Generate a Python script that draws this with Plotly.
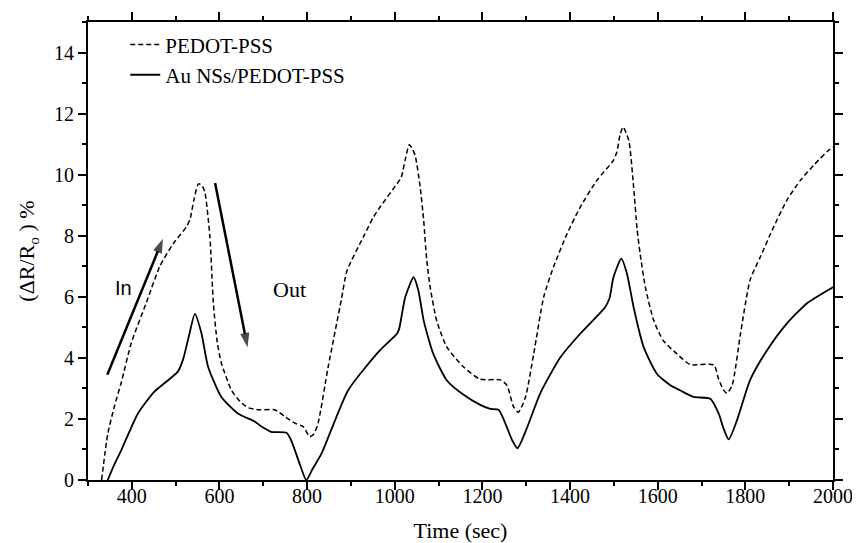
import plotly.graph_objects as go

# PEDOT-PSS (dashed)
t_pedot = [331, 345, 360, 376, 399, 433, 464, 495, 525, 533, 542, 552, 560, 567, 578, 586,
           595, 604, 627, 645, 665, 690, 726, 749, 772, 791, 806, 815, 825, 848, 878, 891,
           929, 951, 967, 1005, 1012, 1016, 1024, 1033, 1040, 1047, 1058, 1066, 1073, 1081,
           1096, 1119, 1157, 1195, 1241, 1256, 1271, 1282, 1298, 1317, 1340, 1362, 1393,
           1423, 1461, 1499, 1507, 1514, 1521, 1534, 1545, 1553, 1560, 1572, 1591, 1613,
           1644, 1674, 1728, 1739, 1750, 1758, 1770, 1789, 1811, 1834, 1865, 1895, 1926,
           1956, 1990, 2000]
r_pedot = [0.0, 1.5, 2.4, 3.2, 4.5, 5.8, 7.0, 7.75, 8.3, 8.55, 9.2, 9.7, 9.65, 9.4, 8.0, 5.8,
           4.5, 3.85, 2.95, 2.6, 2.37, 2.3, 2.3, 2.08, 1.86, 1.75, 1.42, 1.5, 1.86, 3.7, 5.9, 6.85,
           7.98, 8.6, 8.95, 9.7, 9.84, 9.97, 10.5, 10.98, 10.85, 10.6, 9.6, 8.5, 7.2, 6.3,
           5.2, 4.35, 3.7, 3.3, 3.28, 3.1, 2.4, 2.22, 2.7, 4.13, 6.0, 6.97, 8.06,
           8.93, 9.81, 10.47, 10.75, 11.3, 11.56, 11.12, 9.6, 8.2, 7.4, 6.3, 5.22, 4.56,
           4.13, 3.78, 3.77, 3.3, 2.95, 2.84, 3.11, 4.8, 6.56, 7.3, 8.3, 9.17, 9.82,
           10.31, 10.8, 10.9]

# Au NSs/PEDOT-PSS (solid)
t_au = [345, 360, 376, 414, 452, 505, 517, 530, 544, 559, 574, 604, 642, 681, 696, 718, 753,
        762, 772, 785, 798, 812, 833, 894, 967, 1005, 1010, 1024, 1043, 1054, 1066, 1088,
        1119, 1157, 1195, 1218, 1237, 1256, 1268, 1280, 1302, 1332, 1378, 1423, 1480, 1490,
        1499, 1517, 1530, 1545, 1568, 1598, 1629, 1652, 1682, 1720, 1739, 1750, 1762,
        1781, 1811, 1850, 1895, 1941, 1998, 2000]
r_au = [0.0, 0.5, 0.98, 2.18, 2.9, 3.55, 3.95, 4.7, 5.44, 4.8, 3.71, 2.73, 2.18, 1.91, 1.75,
        1.58, 1.55, 1.35, 0.98, 0.45, 0.0, 0.35, 0.87, 2.95, 4.26, 4.79, 4.95, 5.99, 6.64,
        6.2, 5.22, 4.13, 3.26, 2.79, 2.46, 2.33, 2.3, 1.72, 1.3, 1.04, 1.72, 2.84, 4.02,
        4.79, 5.66, 5.95, 6.64, 7.25, 6.75, 5.66, 4.35, 3.48, 3.1, 2.93, 2.72, 2.66, 2.18,
        1.7, 1.33, 1.96, 3.28, 4.26, 5.13, 5.79, 6.3, 6.32]

# Arrows (tail -> head) and their labels
arrow_in_t = [344, 471]
arrow_in_r = [3.45, 7.9]
arrow_out_t = [590, 664]
arrow_out_r = [9.73, 4.35]
label_in = ["In", 381, 6.3]
label_out = ["Out", 759, 6.25]

x_ticks = [400, 600, 800, 1000, 1200, 1400, 1600, 1800, 2000]
y_ticks = [0, 2, 4, 6, 8, 10, 12, 14]

serif = "Liberation Serif, Times New Roman, serif"

fig = go.Figure()
fig.add_trace(go.Scatter(x=t_pedot, y=r_pedot, mode="lines", name="PEDOT-PSS",
                         line=dict(color="black", width=1.5, dash="5px,3px",
                                   shape="spline", smoothing=0.6)))
fig.add_trace(go.Scatter(x=t_au, y=r_au, mode="lines", name="Au NSs/PEDOT-PSS",
                         line=dict(color="black", width=1.8, shape="spline", smoothing=0.6)))

for nm, tt, rr in (("In arrow", arrow_in_t, arrow_in_r), ("Out arrow", arrow_out_t, arrow_out_r)):
    fig.add_trace(go.Scatter(x=tt, y=rr, mode="lines+markers", showlegend=False, name=nm,
                             hoverinfo="skip",
                             line=dict(color="black", width=2.5),
                             marker=dict(symbol="arrow", angleref="previous",
                                         size=[0, 15], color="black",
                                         line=dict(width=0))))

fig.add_annotation(x=label_in[1], y=label_in[2], text=label_in[0], showarrow=False,
                   font=dict(family="Liberation Sans, Arial, sans-serif", size=20, color="black"))
fig.add_annotation(x=label_out[1], y=label_out[2], text=label_out[0], showarrow=False,
                   font=dict(family=serif, size=22, color="black"))

axis_common = dict(showline=True, linecolor="black", linewidth=2, mirror="allticks",
                   ticks="outside", ticklen=8, tickwidth=1.5, tickcolor="black",
                   showgrid=False, zeroline=False, automargin=False,
                   tickfont=dict(family=serif, size=20, color="black"))

fig.update_xaxes(range=[300, 2000], tickvals=x_ticks, ticklabelstandoff=-11,
                 minor=dict(ticks="outside", ticklen=4, tickwidth=1.5, tickcolor="black", dtick=100, tick0=0),
                 title=dict(text="Time (sec)", font=dict(family=serif, size=22, color="black"), standoff=20),
                 **axis_common)
fig.update_yaxes(range=[0, 15], tickvals=y_ticks, ticklabelstandoff=0,
                 minor=dict(ticks="outside", ticklen=4, tickwidth=1.5, tickcolor="black", dtick=1, tick0=0),
                 title=dict(text="(ΔR/R<sub>o</sub> ) %", font=dict(family=serif, size=22, color="black"), standoff=13),
                 **axis_common)

# the page body adds an 8px offset, so the figure is 852x535 with margins set accordingly
fig.update_layout(width=852, height=535, margin=dict(l=80, r=27, t=14, b=63),
                  paper_bgcolor="white", plot_bgcolor="white",
                  showlegend=True,
                  legend=dict(x=0.05, y=0.995, xanchor="left", yanchor="top",
                              bgcolor="rgba(0,0,0,0)", borderwidth=0,
                              font=dict(family=serif, size=21, color="black"),
                              tracegroupgap=0, itemwidth=30))

fig.write_html("out.html")
